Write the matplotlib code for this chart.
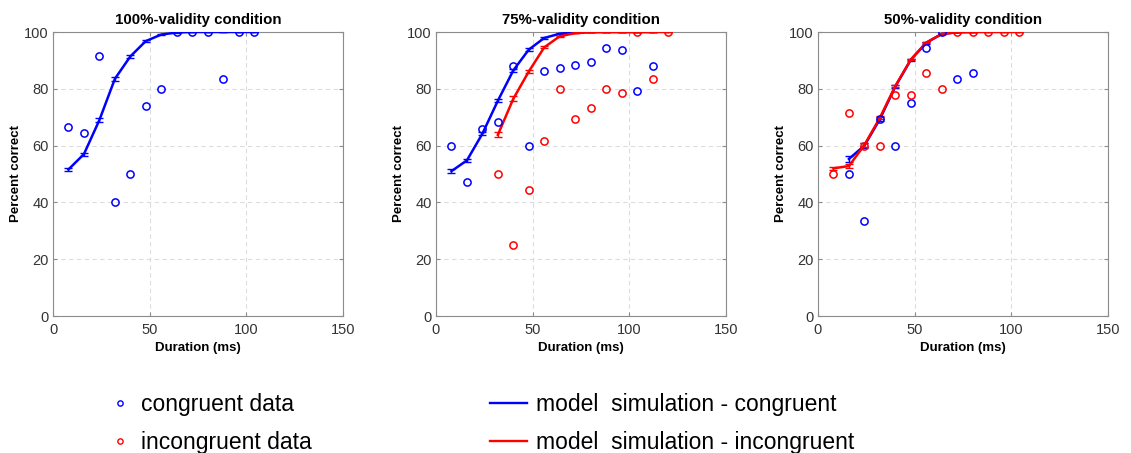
import matplotlib.pyplot as plt
from matplotlib.lines import Line2D

plt.rcParams['font.family'] = ['Liberation Sans', 'DejaVu Sans']

# ---- data ----
titles = ['100%-validity condition', '75%-validity condition', '50%-validity condition']

# congruent data (durations, percent correct)
cong_x = [
    [8, 16, 24, 32, 40, 48, 56, 64, 72, 80, 88, 96, 104],
    [8, 16, 24, 32, 40, 48, 56, 64, 72, 80, 88, 96, 104, 112],
    [16, 24, 32, 40, 48, 56, 64, 72, 80],
]
cong_y = [
    [66.7, 64.3, 91.7, 40.0, 50.0, 73.9, 80.0, 100, 100, 100, 83.3, 100, 100],
    [60.0, 47.3, 65.9, 68.2, 88.2, 60.0, 86.4, 87.5, 88.4, 89.5, 94.3, 93.5, 79.3, 88.2],
    [50.0, 33.3, 69.2, 60.0, 75.0, 94.4, 100, 83.3, 85.7],
]

# incongruent data
incong_x = [
    [],
    [32, 40, 48, 56, 64, 72, 80, 88, 96, 104, 112, 120],
    [8, 16, 24, 32, 40, 48, 56, 64, 72, 80, 88, 96, 104],
]
incong_y = [
    [],
    [50.0, 25.0, 44.4, 61.5, 80.0, 69.2, 73.3, 80.0, 78.6, 100, 83.3, 100],
    [50.0, 71.4, 60.0, 60.0, 77.8, 77.8, 85.7, 80.0, 100, 100, 100, 100, 100],
]

# model simulation - congruent (mean, sem)
sim_c_x = [
    [8, 16, 24, 32, 40, 48, 56, 64, 72, 80, 88, 96, 104],
    [8, 16, 24, 32, 40, 48, 56, 64, 72, 80, 88, 96, 104, 112],
    [16, 24, 32, 40, 48, 56, 64, 72, 80],
]
sim_c_y = [
    [51.6, 57.0, 69.0, 83.5, 91.4, 96.8, 99.1, 99.8, 100, 100, 100, 100, 100],
    [51.0, 54.8, 64.2, 75.8, 86.5, 93.8, 97.9, 99.4, 99.9, 100, 100, 100, 100, 100],
    [55.3, 60.0, 69.3, 80.8, 90.2, 96.2, 99.3, 99.9, 100],
]
sim_c_e = [
    [0.5, 0.5, 0.6, 0.6, 0.5, 0.3, 0.2, 0.1, 0, 0, 0, 0, 0],
    [0.6, 0.5, 0.6, 0.6, 0.6, 0.4, 0.2, 0.1, 0, 0, 0, 0, 0, 0],
    [1.0, 0.8, 0.7, 0.6, 0.4, 0.3, 0.1, 0, 0],
]

# model simulation - incongruent
sim_i_x = [
    [],
    [32, 40, 48, 56, 64, 72, 80, 88, 96, 104, 112, 120],
    [8, 16, 24, 32, 40, 48, 56, 64, 72, 80, 88, 96, 104],
]
sim_i_y = [
    [],
    [63.8, 76.5, 86.1, 94.6, 98.5, 99.6, 99.9, 100, 100, 100, 100, 100],
    [52.0, 52.8, 60.2, 69.8, 81.0, 90.3, 96.3, 99.3, 99.9, 100, 100, 100, 100],
]
sim_i_e = [
    [],
    [0.9, 0.9, 0.6, 0.4, 0.2, 0.1, 0, 0, 0, 0, 0, 0],
    [0.6, 0.6, 0.6, 0.6, 0.5, 0.3, 0.2, 0.1, 0, 0, 0, 0, 0],
]

fig = plt.figure(figsize=(11.31, 4.53), dpi=100)

lefts = [53, 436, 818]
W, H = 1131.0, 453.0
for i in range(3):
    ax = fig.add_axes([lefts[i] / W, (H - 316) / H, 290 / W, 284 / H])
    if sim_c_x[i]:
        ax.errorbar(sim_c_x[i], sim_c_y[i], yerr=sim_c_e[i], color='#0000ff', lw=1.8,
                    capsize=3, elinewidth=1, capthick=1, zorder=3)
    if sim_i_x[i]:
        ax.errorbar(sim_i_x[i], sim_i_y[i], yerr=sim_i_e[i], color='#ff0000', lw=1.8,
                    capsize=3, elinewidth=1, capthick=1, zorder=4)
    ax.plot(cong_x[i], cong_y[i], 'o', mfc='none', mec='#0000ff', ms=5.2, mew=1.1, zorder=5)
    if incong_x[i]:
        ax.plot(incong_x[i], incong_y[i], 'o', mfc='none', mec='#ff0000', ms=5.2, mew=1.1, zorder=5)

    ax.set_xlim(0, 150)
    ax.set_ylim(0, 100)
    ax.set_xticks([0, 50, 100, 150])
    ax.set_yticks([0, 20, 40, 60, 80, 100])
    ax.grid(True, ls=(0, (4, 3)), color='#dcdcdc', lw=0.8)
    ax.set_axisbelow(True)
    for s in ax.spines.values():
        s.set_color('#8c8c8c')
        s.set_linewidth(0.8)
    ax.tick_params(direction='in', length=3, color='#8c8c8c', labelcolor='#333333',
                   labelsize=10.5, top=True, right=True)
    ax.tick_params(axis='x', pad=5)
    ax.tick_params(axis='y', pad=3)
    ax.set_title(titles[i], fontsize=10.8, fontweight='bold', pad=6)
    ax.set_xlabel('Duration (ms)', fontsize=9.5, fontweight='bold', labelpad=4)
    ax.set_ylabel('Percent correct', fontsize=9.5, fontweight='bold', labelpad=1.5)

# legend below the panels
h_data = [Line2D([], [], ls='none', marker='o', mfc='none', mec='#0000ff', ms=3.8, mew=1),
          Line2D([], [], ls='none', marker='o', mfc='none', mec='#ff0000', ms=3.8, mew=1)]
h_sim = [Line2D([], [], color='#0000ff', lw=1.7),
         Line2D([], [], color='#ff0000', lw=1.7)]
fig.legend(h_data, ['congruent data', 'incongruent data'], loc='upper left',
           bbox_to_anchor=(0.0875, 0.152), frameon=False, fontsize=16.5,
           handlelength=1.0, handletextpad=0.45, labelspacing=0.64, borderaxespad=0)
fig.legend(h_sim, ['model  simulation - congruent', 'model  simulation - incongruent'],
           loc='upper left', bbox_to_anchor=(0.425, 0.152), frameon=False, fontsize=16.5,
           handlelength=1.6, handletextpad=0.4, labelspacing=0.64, borderaxespad=0)

fig.savefig('out.png', dpi=100)
